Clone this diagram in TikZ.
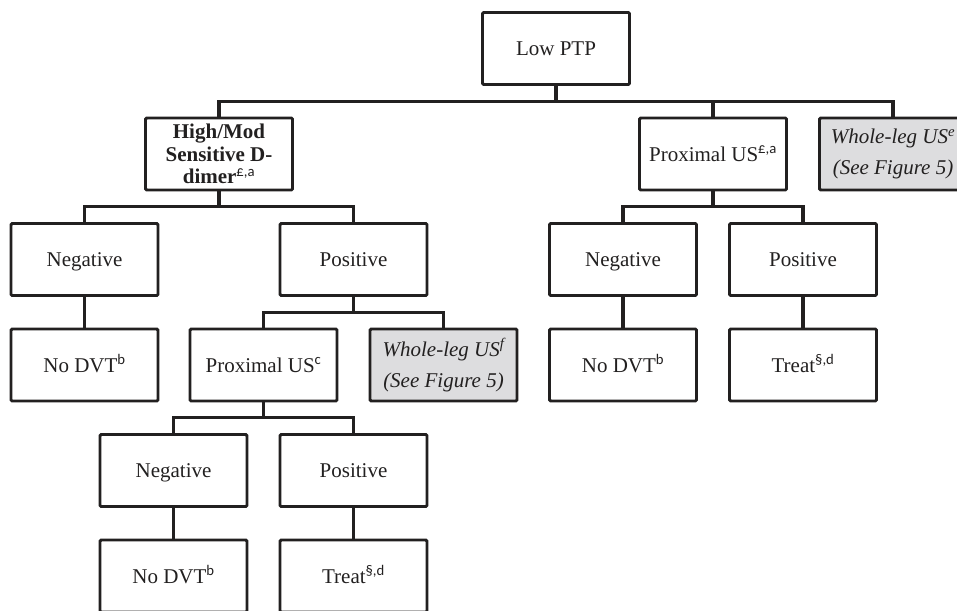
\documentclass[tikz,border=0pt]{standalone}
\usepackage{fontspec}
\setmainfont{Liberation Serif}
\newfontfamily\notefont{Carlito}
\usepackage{tikz}
\usetikzlibrary{trees}
\definecolor{inkline}{RGB}{34,32,32}
\definecolor{wlgray}{RGB}{221,221,223}
\newcommand\fnote[1]{\textsuperscript{\notefont\mdseries\upshape #1}}

\begin{document}
\begin{tikzpicture}[
  x=1pt, y=1pt,
  line width=3.2pt,
  level distance=105.5pt,
  level 1/.style = {sibling distance=337pt},
  level 2/.style = {sibling distance=180pt},
  level 3/.style = {sibling distance=180pt},
  level 4/.style = {sibling distance=180pt},
  every node/.style = {shape=rectangle, rounded corners=1.2pt, draw=inkline, line width=2.9pt,
    minimum width=147pt, minimum height=72pt, align=center, text=inkline,
    text height=17pt, text depth=3pt, font=\fontsize{21}{22}\selectfont},
  edge from parent/.style = {draw=inkline, line width=3.2pt},
  edge from parent path = {(\tikzparentnode.south) -- ++(0,-15.25) -| (\tikzchildnode.north)},
  multiline/.style = {text height=, text depth=},
  figref/.style = {multiline, fill=wlgray, font=\fontsize{21}{31}\selectfont\itshape}
]
  \useasboundingbox (0,0) rectangle (957,-610);
  \node (low) at (556,-48.5) {Low PTP}
          child {node (hm) [multiline, font=\fontsize{21}{22.5}\selectfont\bfseries] {High/Mod\\Sensitive D-\\dimer\fnote{£,a}}
              child[sibling distance=269pt] {node (hmneg) {Negative}
                    child {node (hmnodvt) {No DVT\fnote{b}}}
              }
              child[sibling distance=269pt] {node (hmpos) {Positive}
                    child {node (pusc) {Proximal US\fnote{c}}
                        child {node (cneg) {Negative}
                            child {node (cnodvt) {No DVT\fnote{b}}}
                        }
                        child {node (cpos) {Positive}
                            child {node (ctreat) {Treat\fnote{§,d}}}
                        }
                    }
                    child {node (wlf) [figref] {Whole-leg US\textsuperscript{f}\\(See Figure 5)}}
              }
          }
          child[xshift=157pt] {node (pus) {Proximal US\fnote{£,a}}
              child {node (pneg) {Negative}
                    child {node (pnodvt) {No DVT\fnote{b}}}
              }
              child {node (ppos) {Positive}
                    child {node (ptreat) {Treat\fnote{§,d}}}
              }
          }
          child {node (wle) [figref] {Whole-leg US\textsuperscript{e}\\(See Figure 5)}};
\end{tikzpicture}
\end{document}
